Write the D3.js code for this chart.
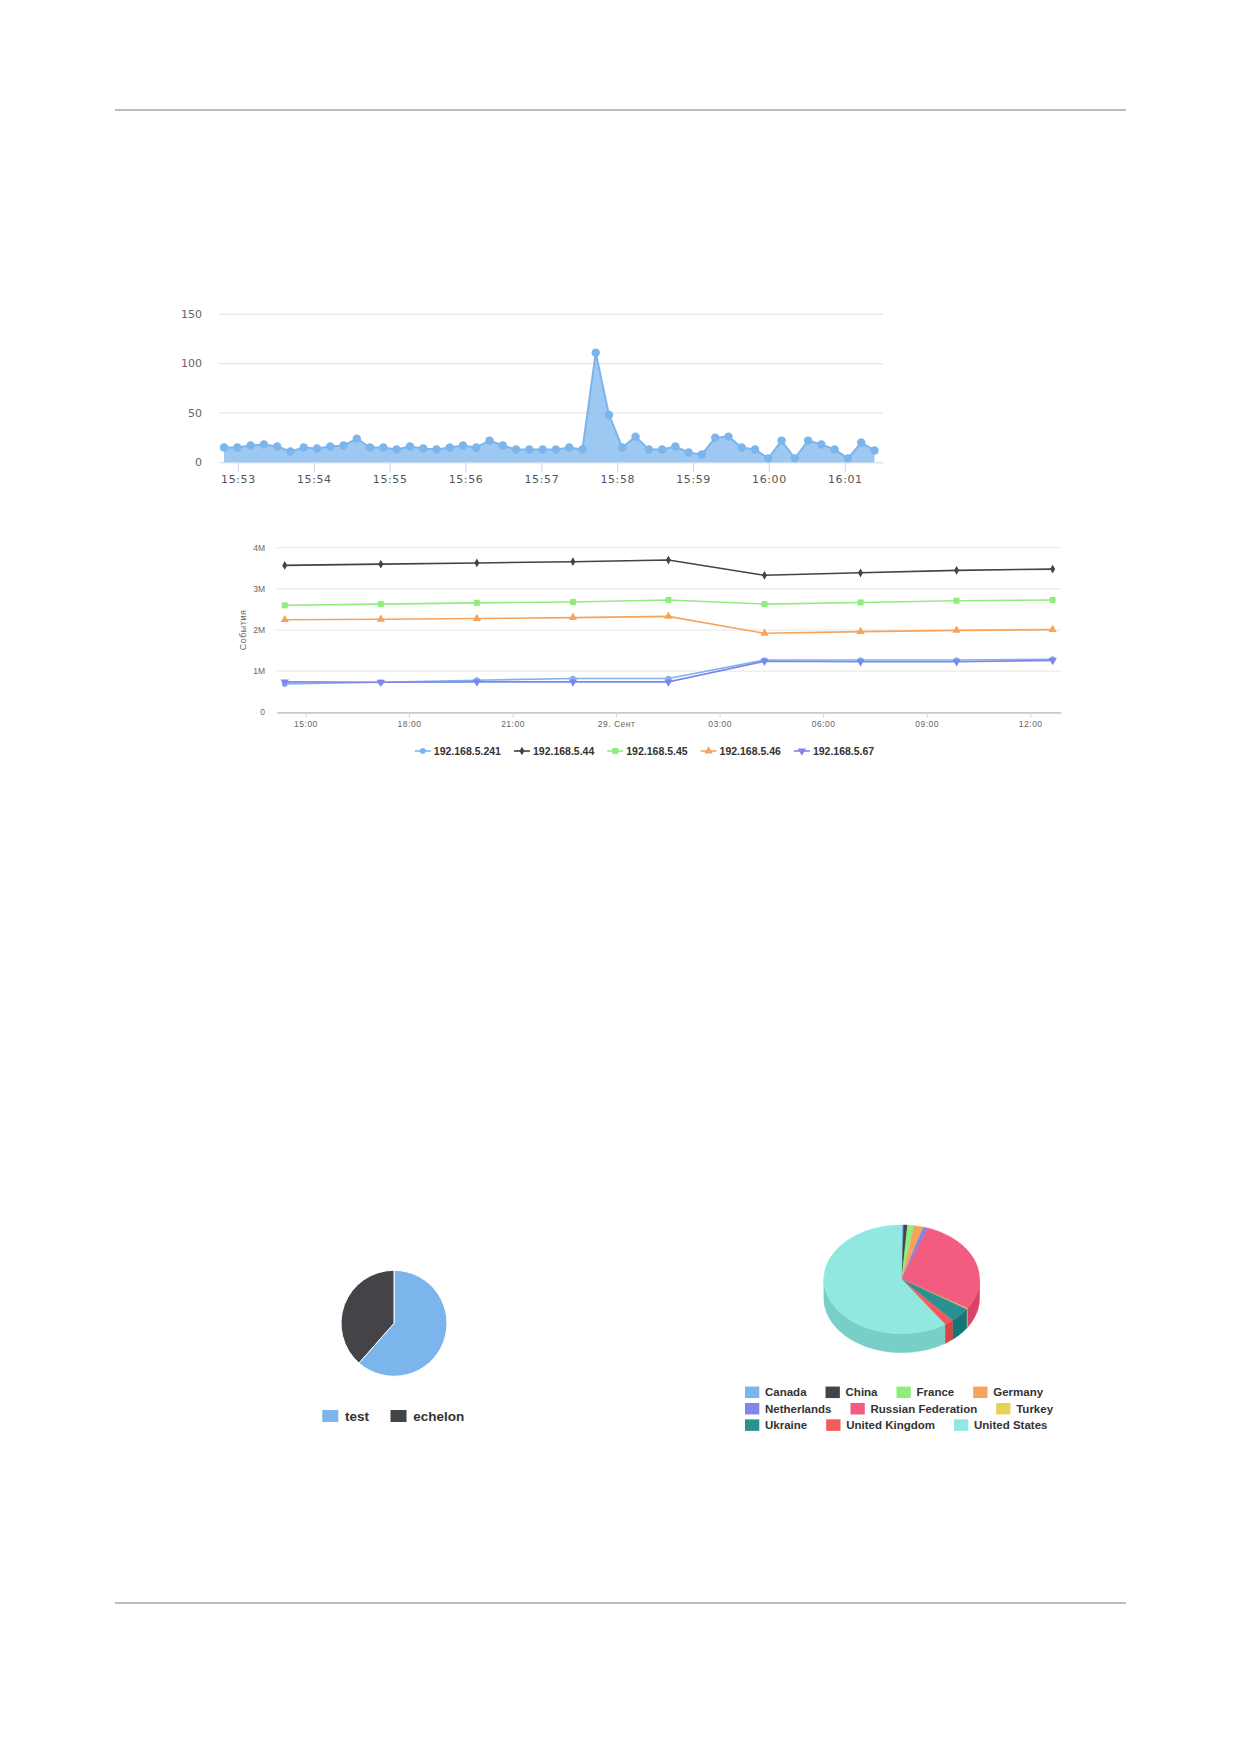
<!DOCTYPE html>
<html>
<head>
<meta charset="utf-8">
<script src="https://cdn.jsdelivr.net/npm/d3@7"></script>
<style>
	body { margin: 0; background: #fff; }
	svg { display: block; }
</style>
</head>
<body>
<svg id="page" width="1239" height="1752"></svg>
<script>
// ---- area chart: events per interval ----
const areaStart = "2016-09-29T15:52:49";
const areaStepSec = 10.5;
const areaDomain = ["2016-09-29T15:52:45", "2016-09-29T16:01:30"];
const areaValues = [15, 15, 17, 18, 16, 11, 15, 14, 16, 17, 24, 15, 15, 13, 16, 14, 13, 15, 17, 15,
	22, 17, 13, 13, 13, 13, 15, 13, 111, 48, 15, 26, 13, 13, 16, 10, 8, 25, 26, 15,
	13, 4, 22, 4, 22, 18, 13, 4, 20, 12];
const areaYTicks = [0, 50, 100, 150];

// ---- line chart: events per host ----
const lineHosts = ["192.168.5.241", "192.168.5.44", "192.168.5.45", "192.168.5.46", "192.168.5.67"];
const lineTimes = ["2016-09-28T14:24", "2016-09-28T17:11", "2016-09-28T19:58", "2016-09-28T22:45",
	"2016-09-29T01:31", "2016-09-29T04:18", "2016-09-29T07:05", "2016-09-29T09:52", "2016-09-29T12:39"];
const lineDomain = ["2016-09-28T14:10", "2016-09-29T12:53"];
const values241 = [690000, 730000, 780000, 820000, 820000, 1270000, 1270000, 1270000, 1290000];
const values44 = [3570000, 3600000, 3630000, 3660000, 3700000, 3330000, 3390000, 3450000, 3480000];
const values45 = [2600000, 2630000, 2660000, 2680000, 2730000, 2630000, 2670000, 2710000, 2730000];
const values46 = [2250000, 2260000, 2280000, 2300000, 2330000, 1920000, 1960000, 1990000, 2010000];
const values67 = [740000, 730000, 740000, 740000, 740000, 1240000, 1230000, 1230000, 1260000];
const lineYTicks = [0, 1000000, 2000000, 3000000, 4000000];
const lineYLabels = ["0", "1M", "2M", "3M", "4M"];
const lineYTitle = "События";

// ---- pies ----
const userNames = ["test", "echelon"];
const userValues = [61.5, 38.5];
const countryNames = ["Canada", "China", "France", "Germany", "Netherlands", "Russian Federation",
	"Turkey", "Ukraine", "United Kingdom", "United States"];
const countryValues = [0.4, 0.8, 1.4, 1.9, 0.9, 28.6, 0.3, 4.4, 1.9, 59.4];

const palette = ["#7cb5ec", "#434348", "#90ed7d", "#f7a35c", "#8085e9", "#f15c80", "#e4d354", "#2b908f", "#f45b5b", "#91e8e1"];

const parseTime = d3.timeParse("%Y-%m-%dT%H:%M:%S");
const parseMin = d3.timeParse("%Y-%m-%dT%H:%M");
const svg = d3.select("#page");

// page rules
[110, 1603].forEach(y => {
	svg.append("line")
		.attr("x1", 115).attr("x2", 1126)
		.attr("y1", y).attr("y2", y)
		.style("stroke", "#a6a6a6")
		.style("stroke-width", 1.6);
});

/* Area chart */
function drawArea(){
	const left = 219, right = 882.7, top = 314.3, bottom = 462.3;
	const t0 = parseTime(areaStart);
	const data = areaValues.map((v, i) => ({t: new Date(t0.getTime() + i * areaStepSec * 1000), v: v}));

	const x = d3.scaleTime().domain(areaDomain.map(parseTime)).range([left, right]);
	const y = d3.scaleLinear().domain([0, 150]).range([bottom, top]);
	const g = svg.append("g").attr("class", "area-chart");

	// grid
	g.selectAll(".grid").data(areaYTicks.filter(d => d > 0)).enter().append("line")
		.attr("x1", left).attr("x2", right)
		.attr("y1", d => y(d)).attr("y2", d => y(d))
		.style("stroke", "#e0e0e0").style("stroke-width", 1);

	g.selectAll(".ylab").data(areaYTicks).enter().append("text")
		.attr("x", 202).attr("y", d => y(d)).attr("dy", "0.35em")
		.attr("text-anchor", "end")
		.style("font", "11px 'DejaVu Sans'").style("fill", "#666")
		.text(d => d);

	const xAxis = g.append("g")
		.attr("transform", "translate(0," + bottom + ")")
		.call(d3.axisBottom(x).ticks(d3.timeMinute.every(1)).tickFormat(d3.timeFormat("%H:%M")).tickSizeInner(10).tickSizeOuter(0).tickPadding(3));
	xAxis.select(".domain").style("stroke", "#ccd6eb");
	xAxis.selectAll(".tick line").style("stroke", "#ccd6eb");
	xAxis.selectAll(".tick text")
		.style("font", "11px 'DejaVu Sans'").style("letter-spacing", "0.6px").style("fill", "#555");

	g.append("path").datum(data)
		.attr("d", d3.area().x(d => x(d.t)).y0(bottom).y1(d => y(d.v)))
		.style("fill", "#7cb5ec").style("fill-opacity", 0.75);
	g.append("path").datum(data)
		.attr("d", d3.line().x(d => x(d.t)).y(d => y(d.v)))
		.style("fill", "none").style("stroke", "#7cb5ec").style("stroke-width", 2);
	g.selectAll(".dot").data(data).enter().append("circle")
		.attr("cx", d => x(d.t)).attr("cy", d => y(d.v)).attr("r", 4.2)
		.style("fill", "#7cb5ec");
}

/* Line chart */
function drawLines(){
	const left = 276.7, right = 1060.7, top = 547.7, bottom = 712.3;
	const x = d3.scaleTime().domain(lineDomain.map(parseMin)).range([left, right]);
	const y = d3.scaleLinear().domain([0, 4000000]).range([bottom, top]);
	const g = svg.append("g").attr("class", "line-chart");
	const times = lineTimes.map(parseMin);
	const series = [values241, values44, values45, values46, values67];
	const symbols = [
		{type: d3.symbolCircle, size: 26, rot: 0},
		{type: d3.symbolDiamond, size: 22, rot: 0},
		{type: d3.symbolSquare, size: 36, rot: 0},
		{type: d3.symbolTriangle, size: 30, rot: 0},
		{type: d3.symbolTriangle, size: 30, rot: 180}
	];

	g.selectAll(".grid").data(lineYTicks.filter(d => d > 0)).enter().append("line")
		.attr("x1", left).attr("x2", right)
		.attr("y1", d => y(d)).attr("y2", d => y(d))
		.style("stroke", "#e6e6e6").style("stroke-width", 1);

	g.selectAll(".ylab").data(lineYTicks).enter().append("text")
		.attr("x", 265).attr("y", d => y(d)).attr("dy", "0.35em")
		.attr("text-anchor", "end")
		.style("font", "8.5px 'Liberation Sans'").style("fill", "#666")
		.text((d, i) => lineYLabels[i]);

	g.append("text")
		.attr("transform", "translate(246," + ((top + bottom) / 2) + ") rotate(-90)")
		.attr("text-anchor", "middle")
		.style("font", "9px 'Liberation Sans'").style("fill", "#666").style("letter-spacing", "0.5px")
		.text(lineYTitle);

	const dayNum = d3.timeFormat("%d");
	const xAxis = g.append("g")
		.attr("transform", "translate(0," + bottom + ")")
		.call(d3.axisBottom(x).ticks(d3.timeHour.every(3))
			.tickFormat(d => d.getHours() === 0 ? (+dayNum(d)) + ". Сент" : d3.timeFormat("%H:%M")(d))
			.tickSizeInner(5).tickSizeOuter(0).tickPadding(4));
	xAxis.select(".domain").style("stroke", "#c8c8c8").style("stroke-width", 1.8);
	xAxis.selectAll(".tick line").style("stroke", "#ccd6eb");
	xAxis.selectAll(".tick text")
		.style("font", "8.5px 'Liberation Sans'").style("letter-spacing", "0.5px").style("fill", "#666");

	series.forEach((vals, s) => {
		const pts = vals.map((v, i) => ({t: times[i], v: v}));
		g.append("path").datum(pts)
			.attr("d", d3.line().x(d => x(d.t)).y(d => y(d.v)))
			.style("fill", "none").style("stroke", palette[s]).style("stroke-width", 1.6);
		g.selectAll(".m" + s).data(pts).enter().append("path")
			.attr("transform", d => "translate(" + x(d.t) + "," + y(d.v) + ") rotate(" + symbols[s].rot + ")")
			.attr("d", d3.symbol().type(symbols[s].type).size(symbols[s].size))
			.style("fill", palette[s]);
	});

	// legend, centered
	const lg = g.append("g");
	const items = lineHosts.map((name, s) => {
		const it = lg.append("g");
		it.append("line").attr("x1", 0).attr("x2", 16).attr("y1", 0).attr("y2", 0)
			.style("stroke", palette[s]).style("stroke-width", 1.6);
		it.append("path")
			.attr("transform", "translate(8,0) rotate(" + symbols[s].rot + ")")
			.attr("d", d3.symbol().type(symbols[s].type).size(symbols[s].size))
			.style("fill", palette[s]);
		const txt = it.append("text").attr("x", 19).attr("dy", "0.35em")
			.style("font", "bold 10.5px 'Liberation Sans'").style("fill", "#333")
			.text(name);
		return {g: it, w: 19 + txt.node().getComputedTextLength()};
	});
	const gap = 13;
	const total = d3.sum(items, d => d.w) + gap * (items.length - 1);
	let cx = 644.5 - total / 2;
	items.forEach(d => {
		d.g.attr("transform", "translate(" + cx + ",751)");
		cx += d.w + gap;
	});
}

/* Legend that wraps into lines, left aligned */
function flowLegend(names, colors, opts){
	const lg = svg.append("g");
	let px = 0, row = 0;
	names.forEach((name, i) => {
		const it = lg.append("g");
		it.append("rect")
			.attr("x", 0).attr("y", -opts.symH / 2)
			.attr("width", opts.symW).attr("height", opts.symH)
			.style("fill", colors[i]);
		const txt = it.append("text").attr("x", opts.textOff).attr("dy", "0.35em")
			.style("font", opts.font).style("fill", "#333")
			.text(name);
		const w = opts.textOff + txt.node().getComputedTextLength();
		if (px > 0 && px + w > opts.maxWidth) { px = 0; row++; }
		it.attr("transform", "translate(" + (opts.x + px) + "," + (opts.y + row * opts.lineH) + ")");
		px += w + opts.gap;
	});
}

/* 2D pie */
function drawUserPie(){
	const cx = 394, cy = 1323.3, r = 53;
	const arcs = d3.pie().sort(null)(userValues);
	const arc = d3.arc().innerRadius(0).outerRadius(r);
	svg.append("g").attr("transform", "translate(" + cx + "," + cy + ")")
		.selectAll("path").data(arcs).enter().append("path")
		.attr("d", arc)
		.style("fill", (d, i) => palette[i])
		.style("stroke", "#fff").style("stroke-width", 1);

	flowLegend(userNames, palette, {x: 322.3, y: 1416, symW: 16, symH: 12, textOff: 22.7, gap: 21.5,
		lineH: 16, maxWidth: 400, font: "bold 13.5px 'Liberation Sans'"});
}

/* 3D pie, drawn as an ellipse with an extruded front wall */
function drawCountryPie(){
	const cx = 901.7, cy = 1279.3, rx = 77.8, ry = 54.3, depth = 19;
	const arcs = d3.pie().sort(null)(countryValues);
	const pt = (a, dy) => [cx + rx * Math.sin(a), cy - ry * Math.cos(a) + dy];
	const ring = (a0, a1, dy) => {
		const n = Math.max(2, Math.ceil((a1 - a0) * 40));
		return d3.range(n + 1).map(k => pt(a0 + (a1 - a0) * k / n, dy));
	};
	const shade = c => { const k = d3.rgb(c); return d3.rgb(k.r - 25.5, k.g - 25.5, k.b - 25.5); };
	const g = svg.append("g").attr("class", "pie3d");
	const line = d3.line();

	// front walls
	arcs.forEach((d, i) => {
		const s0 = Math.max(d.startAngle, Math.PI / 2), s1 = Math.min(d.endAngle, Math.PI * 1.5);
		if (s1 <= s0) return;
		const pts = ring(s0, s1, 0).concat(ring(s0, s1, depth).reverse());
		g.append("path").attr("d", line(pts) + "Z")
			.style("fill", shade(palette[i]))
			.style("stroke", shade(palette[i])).style("stroke-width", 0.5);
	});
	// tops
	arcs.forEach((d, i) => {
		const pts = [[cx, cy]].concat(ring(d.startAngle, d.endAngle, 0));
		g.append("path").attr("d", line(pts) + "Z")
			.style("fill", palette[i])
			.style("stroke", palette[i]).style("stroke-width", 0.5);
	});

	flowLegend(countryNames, palette, {x: 745, y: 1392.3, symW: 14.3, symH: 11.5, textOff: 20, gap: 19,
		lineH: 16.4, maxWidth: 325, font: "bold 11.5px 'Liberation Sans'"});
}

drawArea();
drawLines();
drawUserPie();
drawCountryPie();
</script>
</body>
</html>
